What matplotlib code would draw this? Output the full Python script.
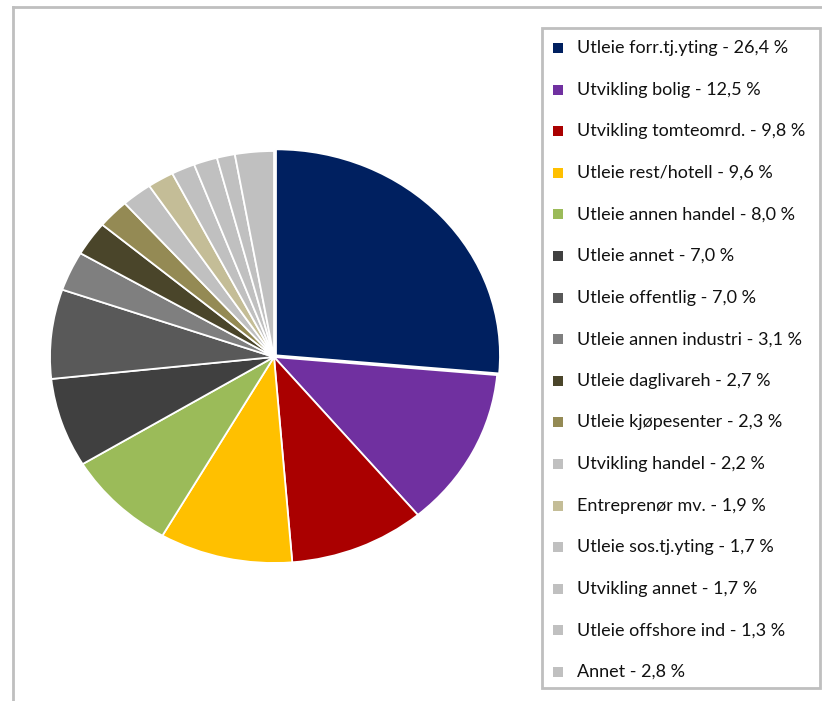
import matplotlib
matplotlib.use("Agg")
import matplotlib.pyplot as plt
from matplotlib.patches import Rectangle
from matplotlib.lines import Line2D

names = ["Utleie forr.tj.yting", "Utvikling bolig", "Utvikling tomteomrd.",
         "Utleie rest/hotell", "Utleie annen handel", "Utleie annet",
         "Utleie offentlig", "Utleie annen industri", "Utleie daglivareh",
         "Utleie kjøpesenter", "Utvikling handel", "Entreprenør mv.",
         "Utleie sos.tj.yting", "Utvikling annet", "Utleie offshore ind", "Annet"]
shares = [26.4, 12.5, 9.8, 9.6, 8.0, 7.0, 7.0, 3.1, 2.7, 2.3, 2.2, 1.9, 1.7, 1.7, 1.3, 2.8]
colors = ["#002060", "#7030A0", "#AA0000", "#FFC000", "#9BBB59", "#404040",
          "#595959", "#7F7F7F", "#4A452A", "#948A54", "#C0C0C0", "#C4BD97",
          "#C0C0C0", "#C0C0C0", "#C0C0C0", "#C0C0C0"]
explode = [0.012] + [0] * (len(shares) - 1)

W, H = 822, 701
fig = plt.figure(figsize=(W / 100, H / 100), dpi=100)

# light grey frame along top and left
fig.add_artist(Line2D([13 / W, 1], [1 - 7 / H, 1 - 7 / H], color="#BFBFBF", lw=2))
fig.add_artist(Line2D([13 / W, 13 / W], [1 - 7 / H, 0], color="#BFBFBF", lw=2))

# pie is slightly squashed: rx=224px, ry=206px around (274, 357)
cx, cy, rx, ry, pad = 274, 357, 224, 206, 1.1
ax = fig.add_axes([(cx - rx * pad) / W, 1 - (cy + ry * pad) / H,
                   2 * rx * pad / W, 2 * ry * pad / H])
ax.pie(shares, colors=colors, startangle=90, counterclock=False, explode=explode,
       wedgeprops=dict(edgecolor="white", linewidth=1.3))
ax.set_aspect("auto")
ax.set_xlim(-pad, pad)
ax.set_ylim(-pad, pad)

# legend box
fig.add_artist(Rectangle((542 / W, 1 - 688 / H), 278 / W, 660 / H, transform=fig.transFigure,
                         facecolor="white", edgecolor="#BFBFBF", lw=2))
y0, step = 48, 41.6
for i, (name, val, c) in enumerate(zip(names, shares, colors)):
    y = y0 + i * step
    fig.add_artist(Rectangle((553 / W, 1 - (y + 5) / H), 10 / W, 10 / H,
                             transform=fig.transFigure, facecolor=c, edgecolor="none"))
    label = f"{name} - " + f"{val:.1f}".replace(".", ",") + " %"
    fig.text(577 / W, 1 - y / H, label, fontsize=13, family="Lato", va="center", color="#111111")

fig.savefig("out.png", dpi=100)
